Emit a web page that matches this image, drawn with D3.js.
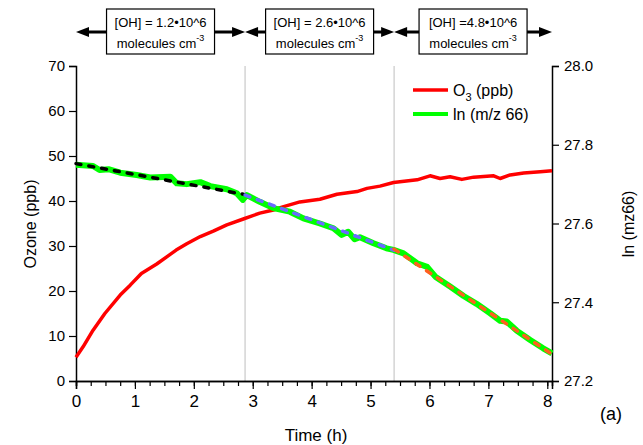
<!DOCTYPE html>
<html>
<head>
<meta charset="utf-8">
<script src="https://d3js.org/d3.v7.min.js"></script>
<style>
  body { margin: 0; background: #fff; }
  text { font-family: "Liberation Sans", Arial, sans-serif; fill: #000; }
</style>
</head>
<body>
<script>
// O3 (ppb), left axis
var timeO3 = [0, 0.12, 0.29, 0.49, 0.75, 0.92, 1.11, 1.37, 1.54, 1.70, 1.88, 2.11, 2.33, 2.56, 2.84,
              3.12, 3.35, 3.51, 3.80, 4.14, 4.43, 4.77, 4.94, 5.16, 5.39, 5.79, 6.01, 6.18, 6.35,
              6.55, 6.75, 7.09, 7.20, 7.37, 7.60, 7.88, 8.08];
var o3 = [5.3, 7.6, 11.3, 15.0, 19.1, 21.3, 23.9, 26.0, 27.6, 29.1, 30.5, 32.1, 33.3, 34.7, 36.0,
          37.3, 38.0, 38.7, 39.8, 40.4, 41.5, 42.1, 42.8, 43.3, 44.1, 44.7, 45.6, 45.0, 45.4,
          44.8, 45.3, 45.6, 45.0, 45.8, 46.2, 46.5, 46.7];

// ln (m/z 66), right axis
var timeLn = [0, 0.29, 0.40, 0.55, 0.75, 1.03, 1.26, 1.60, 1.71, 1.88, 2.11, 2.28, 2.56, 2.73, 2.83,
              2.90, 3.12, 3.35, 3.63, 3.86, 4.14, 4.37, 4.51, 4.62, 4.73, 4.82, 5.05, 5.27, 5.39,
              5.56, 5.79, 5.96, 6.10, 6.35, 6.58, 6.80, 7.03, 7.20, 7.31, 7.48, 7.71, 7.93, 8.08];
var lnVals = [27.749, 27.746, 27.736, 27.738, 27.729, 27.723, 27.717, 27.719, 27.702, 27.700, 27.705,
              27.695, 27.687, 27.677, 27.660, 27.672, 27.655, 27.639, 27.630, 27.613, 27.600, 27.588,
              27.571, 27.579, 27.560, 27.565, 27.550, 27.537, 27.533, 27.524, 27.499, 27.490, 27.465,
              27.440, 27.416, 27.396, 27.372, 27.353, 27.351, 27.328, 27.304, 27.283, 27.270];

// linear fits for each OH period
var fitStart = [0, 2.87, 5.40];
var fitEnd   = [2.85, 5.40, 8.08];
var fitFrom  = [27.752, 27.672, 27.535];
var fitTo    = [27.674, 27.532, 27.268];
var fitColors = ["#000000", "#6b6bff", "#ff5f1f"];

// OH periods
var periodBounds = [0, 2.87, 5.40, 8.08];
var ohLabels = ["[OH] = 1.2\u202210^6", "[OH] = 2.6\u202210^6", "[OH] =4.8\u202210^6"];

var xTicks = [0, 1, 2, 3, 4, 5, 6, 7, 8];
var yTicks = [0, 10, 20, 30, 40, 50, 60, 70];
var y2Ticks = [27.2, 27.4, 27.6, 27.8, 28.0];

var width = 643, height = 445;
var svg = d3.select("body").append("svg").attr("width", width).attr("height", height);

var x = d3.scaleLinear().domain([0, 8.08]).range([76, 552]);
var y = d3.scaleLinear().domain([0, 70]).range([381, 66]);
var y2 = d3.scaleLinear().domain([27.2, 28.0]).range([381, 66]);

// grey period separators
svg.selectAll(".sep").data(periodBounds.slice(1, 3)).enter().append("line")
  .attr("x1", d => x(d)).attr("x2", d => x(d))
  .attr("y1", 66).attr("y2", 381)
  .attr("stroke", "#d4d4d4").attr("stroke-width", 1.5);

// axes
var xAxis = d3.axisBottom(x).tickValues(xTicks).tickSize(8).tickPadding(6).tickFormat(d3.format("d"));
var xMinor = d3.axisBottom(x).tickValues(d3.range(0, 8.01, 0.25)).tickSize(5).tickFormat("");
var yAxis = d3.axisLeft(y).tickValues(yTicks).tickSize(7).tickPadding(4);
var y2Axis = d3.axisRight(y2).tickValues(y2Ticks).tickSize(7).tickPadding(5).tickFormat(d3.format(".1f"));

function styleAxis(g) {
  g.select(".domain").attr("stroke", "#000").attr("stroke-width", 1.5);
  g.selectAll(".tick line").attr("stroke", "#000").attr("stroke-width", 1.2);
  g.selectAll(".tick text").style("font-size", "15px")
    .style("font-family", "'Liberation Sans', Arial, sans-serif").attr("fill", "#000");
}

svg.append("g").attr("transform", "translate(0,381)").call(xMinor).call(styleAxis);
svg.append("g").attr("transform", "translate(0,381)").call(xAxis).call(styleAxis)
  .selectAll(".tick text").style("font-size", "17px");
svg.append("g").attr("transform", "translate(76,0)").call(yAxis).call(styleAxis);
svg.append("g").attr("transform", "translate(552,0)").call(y2Axis).call(styleAxis);

// lines
var o3Line = d3.line().x((d, i) => x(timeO3[i])).y(d => y(d));
var lnLine = d3.line().x((d, i) => x(timeLn[i])).y(d => y2(d));

svg.append("path").datum(o3).attr("d", o3Line)
  .attr("fill", "none").attr("stroke", "#ff0000").attr("stroke-width", 3.5)
  .attr("stroke-linejoin", "round");

svg.append("path").datum(lnVals).attr("d", lnLine)
  .attr("fill", "none").attr("stroke", "#00ff00").attr("stroke-width", 6)
  .attr("stroke-linejoin", "round");

svg.selectAll(".fit").data(fitStart).enter().append("line")
  .attr("x1", d => x(d)).attr("y1", (d, i) => y2(fitFrom[i]))
  .attr("x2", (d, i) => x(fitEnd[i])).attr("y2", (d, i) => y2(fitTo[i]))
  .attr("stroke", (d, i) => fitColors[i]).attr("stroke-width", 3.5)
  .attr("stroke-dasharray", "5,8").attr("stroke-linecap", "round");

// top OH annotation: arrows + boxes
var arrowY = 32, boxW = 108, boxTop = 9, boxH = 45;
var ann = svg.append("g");
function arrowHead(tipX, dir) {
  var l = 13, w = 5;
  ann.append("path")
    .attr("d", "M" + tipX + "," + arrowY + "L" + (tipX + dir * l) + "," + (arrowY - w) +
               "L" + (tipX + dir * l) + "," + (arrowY + w) + "Z")
    .attr("fill", "#000");
}
ohLabels.forEach(function(lbl, i) {
  var a = x(periodBounds[i]), b = x(periodBounds[i + 1]);
  var cx = (a + b) / 2;
  ann.append("line").attr("x1", a + 6).attr("x2", b - 6).attr("y1", arrowY).attr("y2", arrowY)
    .attr("stroke", "#000").attr("stroke-width", 3);
  arrowHead(a, 1);
  arrowHead(b, -1);
  ann.append("rect").attr("x", cx - boxW / 2).attr("y", boxTop).attr("width", boxW).attr("height", boxH)
    .attr("fill", "#fff").attr("stroke", "#000").attr("stroke-width", 1.2);
  ann.append("text").attr("x", cx).attr("y", boxTop + 18).attr("text-anchor", "middle")
    .style("font-size", "13px").text(lbl);
  var t = ann.append("text").attr("x", cx).attr("y", boxTop + 39).attr("text-anchor", "middle")
    .style("font-size", "13px");
  t.append("tspan").text("molecules cm");
  t.append("tspan").attr("dy", -7).style("font-size", "9px").text("-3");
});

// legend
var legend = svg.append("g");
legend.append("line").attr("x1", 413).attr("x2", 448).attr("y1", 90).attr("y2", 90)
  .attr("stroke", "#ff0000").attr("stroke-width", 3.5);
legend.append("line").attr("x1", 413).attr("x2", 448).attr("y1", 114).attr("y2", 114)
  .attr("stroke", "#00ff00").attr("stroke-width", 4);
var lt = legend.append("text").attr("x", 453).attr("y", 96).style("font-size", "16px");
lt.append("tspan").text("O");
lt.append("tspan").attr("dy", 5).style("font-size", "11px").text("3");
lt.append("tspan").attr("dy", -5).text(" (ppb)");
legend.append("text").attr("x", 453).attr("y", 120).style("font-size", "16px").text("ln (m/z 66)");

// axis titles
svg.append("text").attr("transform", "translate(36,224) rotate(-90)").attr("text-anchor", "middle")
  .style("font-size", "16px").text("Ozone (ppb)");
svg.append("text").attr("transform", "translate(634,224) rotate(-90)").attr("text-anchor", "middle")
  .style("font-size", "16px").text("ln (mz66)");
svg.append("text").attr("x", 316).attr("y", 441).attr("text-anchor", "middle")
  .style("font-size", "17px").text("Time (h)");
svg.append("text").attr("x", 600).attr("y", 420).style("font-size", "18px").text("(a)");
</script>
</body>
</html>
